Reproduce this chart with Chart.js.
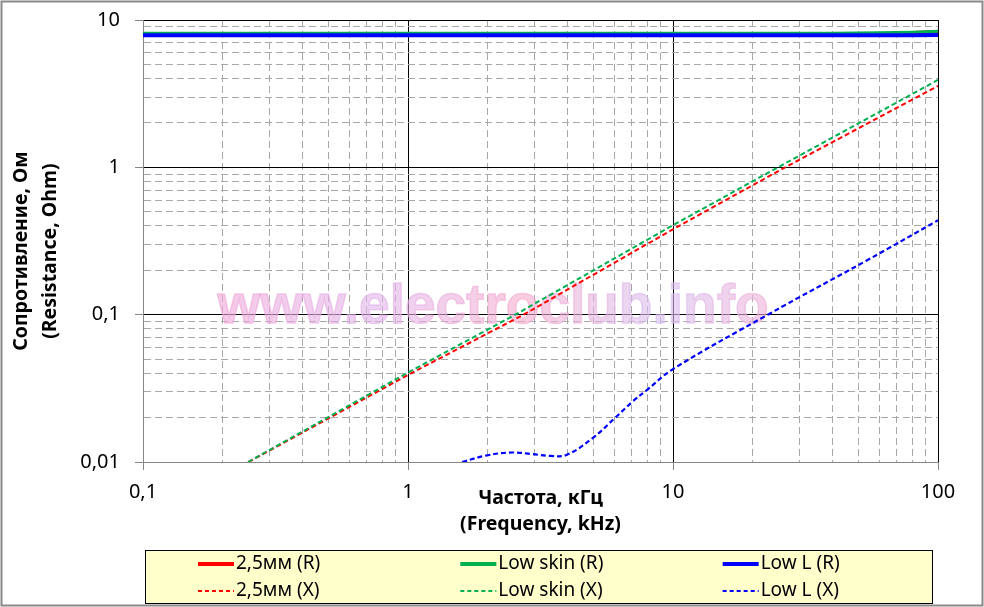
<!DOCTYPE html>
<html>
<head>
<meta charset="utf-8">
<script src="https://cdn.jsdelivr.net/npm/chart.js@4.4.0/dist/chart.umd.min.js"></script>
<style>
  html, body { margin: 0; padding: 0; background: #fff; }
  #wrap { width: 984px; height: 607px; }
</style>
</head>
<body>
<div id="wrap"><canvas id="chart"></canvas></div>
<script>
// axis decades (tick labels) and minor grid steps
const xDecades = [0.1, 1, 10, 100];
const yDecades = [0.01, 0.1, 1, 10];
const minorSteps = [2, 3, 4, 5, 6, 7, 8, 9];

// R curves, frequency in kHz, value in Ohm
const freqR = [0.1, 1, 10, 40, 60, 80, 100];
const r25R  = [7.97, 7.97, 7.97, 7.98, 8.05, 8.18, 8.33];
const skinR = [8.12, 8.12, 8.12, 8.13, 8.18, 8.27, 8.38];
const lowLR = [7.88, 7.88, 7.88, 7.88, 7.88, 7.89, 7.9];

// X curves
const freqX25   = [0.25, 1, 2.73, 10, 26.5, 100];
const r25X      = [0.01, 0.039, 0.1, 0.38, 1.0, 3.57];
const freqXskin = [0.249, 1, 2.54, 10, 24.9, 100];
const skinX     = [0.01, 0.0405, 0.1, 0.405, 1.0, 3.92];
const freqXlowL = [1.6, 1.99, 2.47, 2.96, 3.44, 3.98, 4.99, 6.04, 7.0, 7.97, 10, 22.8, 54, 100];
const lowLX     = [0.01, 0.0111, 0.0116, 0.0113, 0.011, 0.0112, 0.0146, 0.0199, 0.0255, 0.0308, 0.0427, 0.1, 0.234, 0.437];

const FONT = '"Noto Sans", sans-serif';
Chart.defaults.font.family = FONT;
Chart.defaults.color = '#000';

function pts(xs, ys) { return xs.map((x, i) => ({ x: x, y: ys[i] })); }

function logTicks(decades) {
  const out = [];
  decades.forEach((d, i) => {
    out.push(d);
    if (i < decades.length - 1) minorSteps.forEach(m => out.push(+(d * m).toPrecision(3)));
  });
  return out;
}

function axis(decades, extra) {
  const isMajor = c => c.tick && decades.includes(c.tick.value);
  return Object.assign({
    type: 'logarithmic',
    min: decades[0],
    max: decades[decades.length - 1],
    afterBuildTicks: s => { s.ticks = logTicks(decades).map(v => ({ value: v })); },
    grid: {
      color: c => isMajor(c) ? '#000' : '#a8a8a8',
      lineWidth: 1,
      tickLength: 8,
      tickColor: c => isMajor(c) ? '#868686' : 'rgba(0,0,0,0)'
    },
    border: { color: '#868686', width: 1, dash: c => (c.tick && !decades.includes(c.tick.value)) ? [7, 4] : [] },
    ticks: {
      autoSkip: false,
      maxRotation: 0,
      color: '#000',
      font: { size: 20 },
      callback: v => decades.includes(v) ? String(v).replace('.', ',') : ''
    }
  }, extra);
}

const watermark = {
  id: 'watermark',
  beforeDraw(chart) {
    const ctx = chart.ctx;
    ctx.save();
    ctx.fillStyle = '#fff';
    ctx.fillRect(0, 0, chart.width, chart.height);
    ctx.restore();
  },
  beforeDatasetsDraw(chart) {
    const ctx = chart.ctx;
    ctx.save();
    const g = ctx.createLinearGradient(213, 0, 773, 0);
    g.addColorStop(0, 'rgba(240,165,215,0.6)');
    g.addColorStop(0.3, 'rgba(225,180,235,0.6)');
    g.addColorStop(0.55, 'rgba(245,170,205,0.6)');
    g.addColorStop(0.8, 'rgba(215,190,240,0.6)');
    g.addColorStop(1, 'rgba(240,175,215,0.6)');
    ctx.fillStyle = g;
    ctx.strokeStyle = g;
    ctx.lineWidth = 1.5;
    ctx.font = 'bold 55px "Liberation Sans", Arial, sans-serif';
    ctx.textAlign = 'center';
    ctx.textBaseline = 'alphabetic';
    ctx.fillText('www.electroclub.info', 493, 323);
    ctx.strokeText('www.electroclub.info', 493, 323);
    ctx.restore();
  }
};

const boxLegend = {
  id: 'boxLegend',
  afterDraw(chart) {
    const ctx = chart.ctx;
    const box = { left: 145, top: 550, right: 932, bottom: 603 };
    ctx.save();
    ctx.fillStyle = '#ffffcc';
    ctx.fillRect(box.left, box.top, box.right - box.left, box.bottom - box.top);
    ctx.strokeStyle = '#000';
    ctx.lineWidth = 1;
    ctx.strokeRect(box.left + 0.5, box.top + 0.5, box.right - box.left, box.bottom - box.top);
    const colW = (box.right - box.left) / 3;
    const rows = [564, 591];
    chart.data.datasets.forEach((ds, i) => {
      const x = box.left + 53 + (i % 3) * colW;
      const y = rows[Math.floor(i / 3)];
      ctx.beginPath();
      ctx.strokeStyle = ds.borderColor;
      ctx.lineWidth = ds.borderDash ? 2 : 4;
      ctx.setLineDash(ds.borderDash ? [4, 3] : []);
      ctx.moveTo(x, y);
      ctx.lineTo(x + 36, y);
      ctx.stroke();
      ctx.setLineDash([]);
      ctx.fillStyle = '#000';
      ctx.font = '19px ' + FONT;
      ctx.textBaseline = 'middle';
      ctx.textAlign = 'left';
      ctx.fillText(ds.label, x + 38, y);
    });
    // outer frame
    ctx.strokeStyle = '#898989';
    ctx.strokeRect(1.5, 1.5, 981, 604);
    ctx.restore();
  }
};

const line = (label, color, data, width, order, dash, tension) => ({
  label: label,
  data: data,
  borderColor: color,
  backgroundColor: color,
  borderWidth: width,
  borderDash: dash,
  pointRadius: 0,
  tension: tension || 0,
  fill: false,
  order: order
});

new Chart(document.getElementById('chart'), {
  type: 'line',
  data: {
    datasets: [
      line('2,5мм (R)', '#ff0000', pts(freqR, r25R), 3.5, 5),
      line('Low skin (R)', '#00b050', pts(freqR, skinR), 3, 4),
      line('Low L (R)', '#0000ff', pts(freqR, lowLR), 4, 0),
      line('2,5мм (X)', '#ff0000', pts(freqX25, r25X), 2, 3, [5, 3]),
      line('Low skin (X)', '#00b050', pts(freqXskin, skinX), 2, 2, [5, 3]),
      line('Low L (X)', '#0000ff', pts(freqXlowL, lowLX), 2.2, 1, [5, 3], 0.4)
    ]
  },
  options: {
    responsive: true,
    maintainAspectRatio: false,
    animation: false,
    devicePixelRatio: 1,
    layout: { padding: { left: 0, right: 46, top: 20, bottom: 59 } },
    plugins: { legend: { display: false }, tooltip: { enabled: false } },
    scales: {
      x: axis(xDecades, {
        afterFit: s => { s.height = 86; },
        title: {
          display: true,
          text: ['Частота, кГц', '(Frequency, kHz)'],
          color: '#000',
          font: { size: 19.5, weight: 'bold', lineHeight: 1.35 },
          padding: { top: 0, bottom: 10 }
        }
      }),
      y: axis(yDecades, {
        afterFit: s => { s.width = 143; s.paddingTop = 0; s.paddingBottom = 0; },
        title: {
          display: true,
          text: ['Сопротивление, Ом    ', '(Resistance, Ohm)    '],
          color: '#000',
          font: { size: 19.5, weight: 'bold', lineHeight: 1.5 },
          padding: { top: 7, bottom: 0 }
        }
      })
    }
  },
  plugins: [watermark, boxLegend]
});

// tick label padding per axis
const ch = Chart.getChart('chart');
ch.options.scales.x.ticks.padding = 10;
ch.options.scales.y.ticks.padding = 15;
ch.update();
</script>
</body>
</html>
